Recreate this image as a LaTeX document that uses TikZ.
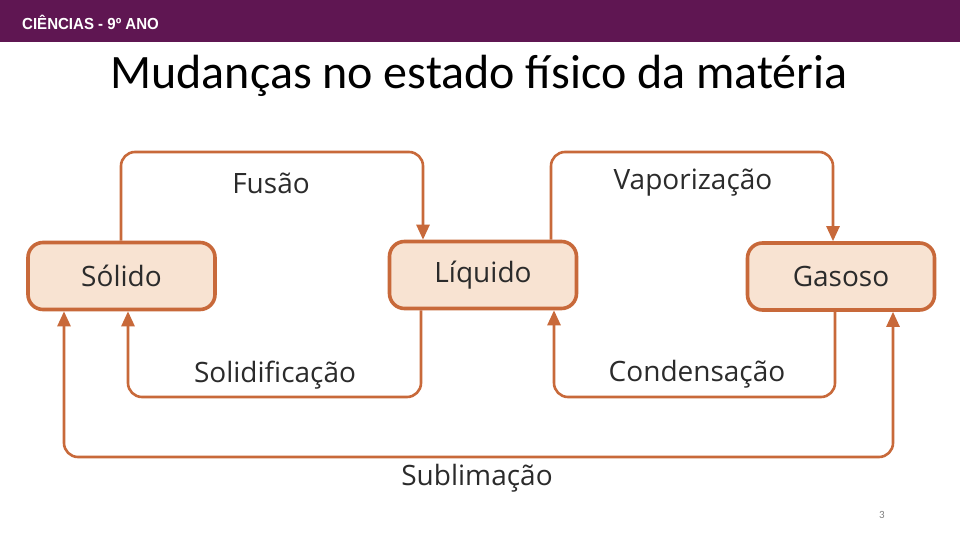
\documentclass[tikz,border=0pt]{standalone}
\usepackage{fontspec}
\setmainfont{Open Sans}
\newfontfamily\titlefont{Carlito}
\newfontfamily\headfont{Liberation Sans}
\usetikzlibrary{arrows.meta,calc}
\definecolor{barpurple}{HTML}{5F1652}
\definecolor{boxfill}{HTML}{F8E3D2}
\definecolor{orng}{HTML}{C8693A}
\definecolor{txt}{HTML}{2B2B2B}
\tikzset{
  statebox/.style={draw=orng, line width=3.6pt, fill=boxfill, rounded corners=15pt,
    minimum width=187pt, minimum height=67pt, inner sep=0pt,
    font=\fontsize{28}{32}\selectfont, text=txt},
  conn/.style={draw=orng, line width=2.6pt, rounded corners=14pt,
    -{Triangle[length=15pt,width=13pt]}},
  bconn/.style={draw=orng, line width=2.6pt, rounded corners=14pt,
    {Triangle[length=15pt,width=13pt]}-{Triangle[length=15pt,width=13pt]}},
  lbl/.style={font=\fontsize{28}{32}\selectfont, text=txt, inner sep=0pt}
}
\begin{document}
\begin{tikzpicture}[x=1pt,y=-1pt]
\useasboundingbox (0,0) rectangle (960,540);
\fill[white] (0,0) rectangle (960,540);
\fill[barpurple] (0,0) rectangle (960,42);
\node[anchor=west, text=white, font=\headfont\bfseries\fontsize{16}{18}\selectfont, inner sep=0pt, xscale=0.94] (head) at (22,22) {CIÊNCIAS - 9º ANO};
\node[font=\titlefont\fontsize{48}{54}\selectfont, text=black, inner sep=0pt] (title) at (479,76) {Mudanças no estado físico da matéria};

\node[statebox] (sol) at (121.5,276) {Sólido};
\node[statebox] (liq) at (483,275) {Líquido};
\node[statebox] (gas) at (841,276.5) {Gasoso};

\coordinate (fusA) at (121,0);
\coordinate (fusB) at (423,0);
\draw[conn] (sol.north -| fusA) -- (121,152) -- (423,152) -- (liq.north -| fusB);
\node[lbl] (fus) at (271,183) {Fusão};

\coordinate (vapA) at (551,0);
\coordinate (vapB) at (833,0);
\draw[conn] (liq.north -| vapA) -- (551,152) -- (833,152) -- (gas.north -| vapB);
\node[lbl] (vap) at (693,183) {Vaporização};

\coordinate (solA) at (421,0);
\coordinate (solB) at (128,0);
\draw[conn] (liq.south -| solA) -- (421,397) -- (128,397) -- (sol.south -| solB);
\node[lbl] (sld) at (275,375) {Solidificação};

\coordinate (conA) at (835,0);
\coordinate (conB) at (554,0);
\draw[conn] (gas.south -| conA) -- (835,397) -- (554,397) -- (liq.south -| conB);
\node[lbl] (con) at (697,374) {Condensação};

\coordinate (subA) at (64,0);
\coordinate (subB) at (893,0);
\draw[bconn] (sol.south -| subA) -- (64,457) -- (893,457) -- (gas.south -| subB);
\node[lbl] (sub) at (477,478) {Sublimação};

\node[font=\titlefont\fontsize{11}{13}\selectfont, text=gray, inner sep=0pt] (pg) at (882,515) {3};
\end{tikzpicture}
\end{document}
